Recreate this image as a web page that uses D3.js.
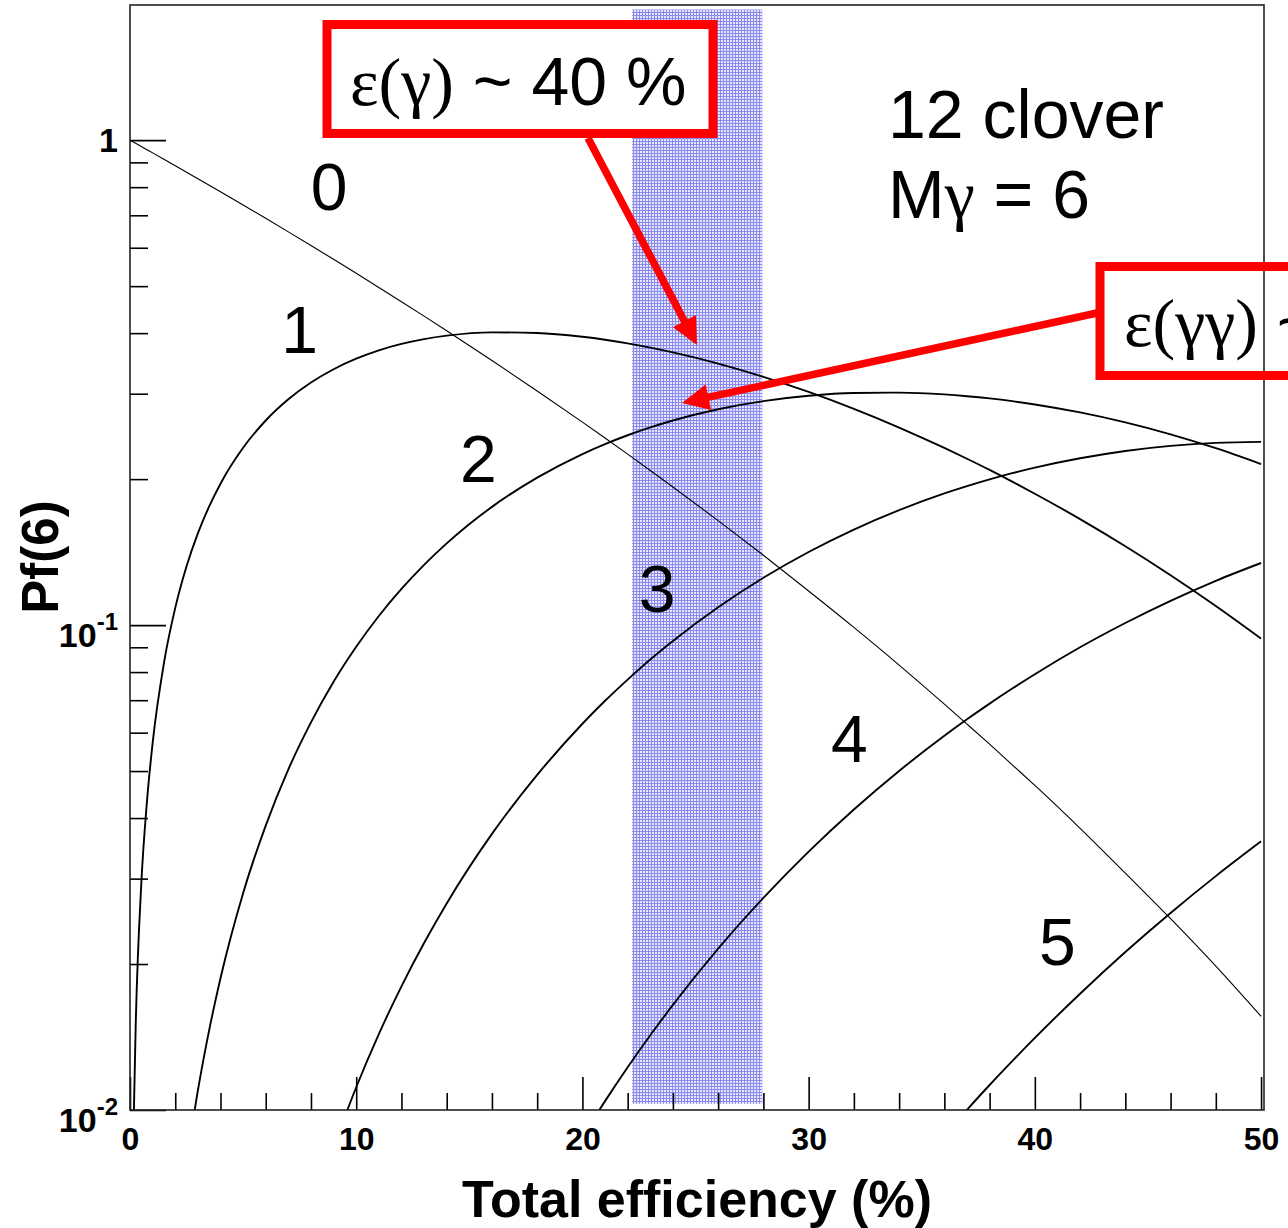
<!DOCTYPE html>
<html>
<head>
<meta charset="utf-8">
<script src="https://cdn.jsdelivr.net/npm/d3@7"></script>
<style>
  body { margin: 0; background: #fff; }
  svg { display: block; }
  text { font-family: "Liberation Sans", Arial, sans-serif; }
</style>
</head>
<body>
<svg id="chart"></svg>
<script>
// total efficiency grid (%)
const effPct = [0, 0.15, 0.25, 0.5, 0.75, 1, 1.5, 2, 2.5, 3, 3.5, 4, 5, 6, 7, 8, 9, 10, 11, 12, 13, 14,
  16, 18, 20, 21, 22, 23, 24, 26, 28, 30, 32, 34, 36, 37, 38, 39, 40, 42, 44, 46, 48, 50];

const lead = n => Array(n).fill(null);

// Pf(6) for fold 0..5
const pf0 = [1, 0.9910, 0.9851, 0.9704, 0.9558, 0.9415, 0.9133, 0.8858, 0.8591, 0.8330, 0.8075, 0.7828,
  0.7351, 0.6899, 0.6470, 0.6064, 0.5679, 0.5314, 0.4970, 0.4644, 0.4336, 0.4046, 0.3513, 0.3040,
  0.2621, 0.2431, 0.2252, 0.2084, 0.1927, 0.1642, 0.1393, 0.1176, 0.0989, 0.0827, 0.0687, 0.0625,
  0.0568, 0.0515, 0.0467, 0.0381, 0.0308, 0.0248, 0.0198, 0.0156];
const pf1 = [null, 0.0089, 0.0148, 0.0293, 0.0433, 0.0571, 0.0835, 0.1085, 0.1322, 0.1546, 0.1757, 0.1957,
  0.2321, 0.2642, 0.2922, 0.3164, 0.3370, 0.3543, 0.3686, 0.3800, 0.3888, 0.3952, 0.4015, 0.4004,
  0.3932, 0.3877, 0.3811, 0.3735, 0.3651, 0.3462, 0.3251, 0.3025, 0.2792, 0.2555, 0.2319, 0.2203,
  0.2089, 0.1976, 0.1866, 0.1654, 0.1454, 0.1267, 0.1095, 0.0938];
const pf2 = lead(8).concat([0.00777, 0.01096, 0.01461, 0.01869, 0.0280, 0.0386, 0.0504, 0.0630, 0.0764,
  0.0902, 0.1044, 0.1187, 0.1331, 0.1474, 0.1753, 0.2014, 0.2253, 0.2362, 0.2463, 0.2557, 0.2642,
  0.2787, 0.2897, 0.2971, 0.3010, 0.3016, 0.2990, 0.2965, 0.2934, 0.2896, 0.2851, 0.2745, 0.2618,
  0.2474, 0.2316, 0.2148]);
const pf3 = lead(16).concat([0.00839, 0.01114, 0.01434, 0.01799, 0.02210, 0.02667, 0.0371, 0.0491,
  0.0626, 0.0698, 0.0772, 0.0849, 0.0927, 0.1088, 0.1252, 0.1415, 0.1574, 0.1726, 0.1869, 0.1935,
  0.1998, 0.2057, 0.2112, 0.2208, 0.2286, 0.2342, 0.2376, 0.2387]);
const pf4 = lead(24).concat([0.00880, 0.01043, 0.01225, 0.01426, 0.01647, 0.02151, 0.02738, 0.03411,
  0.04167, 0.05003, 0.05912, 0.06393, 0.06888, 0.07398, 0.07920, 0.0900, 0.1010, 0.1122, 0.1234, 0.1343]);
const pf5 = lead(34).concat([0.00887, 0.01001, 0.01126, 0.01261, 0.01408, 0.01737, 0.02117, 0.02549,
  0.03036, 0.03581]);

const folds = ["0", "1", "2", "3", "4", "5"];
const foldSeries = [pf0, pf1, pf2, pf3, pf4, pf5];
// where each fold number sits (efficiency %, Pf)
const foldLabelAt = [[8.8, 0.717], [7.5, 0.364], [15.4, 0.197], [23.3, 0.1064], [31.8, 0.0522], [41.0, 0.0199]];

const xTicks = [0, 10, 20, 30, 40, 50];
const xTickLabels = ["0", "10", "20", "30", "40", "50"];
const yTicks = [1, 0.1, 0.01];
const yTickBase = ["1", "10", "10"];
const yTickExp = ["", "-1", "-2"];

const band = [22.2, 27.95];   // highlighted efficiency range

const width = 1288;
const height = 1228;
const frame = { left: 130, right: 1264, top: 5, bottom: 1110 };

const svg = d3.select("#chart")
  .attr("width", width)
  .attr("height", height);

const x = d3.scaleLinear().domain([0, 50.13]).range([frame.left, frame.right]);
const y = d3.scaleLog().domain([0.01, 1.9]).range([frame.bottom, frame.top]);

const defs = svg.append("defs");
defs.append("clipPath").attr("id", "plotclip")
  .append("rect")
  .attr("x", frame.left).attr("y", frame.top)
  .attr("width", frame.right - frame.left).attr("height", frame.bottom - frame.top);

// fine blue hatch of the band
const pat = defs.append("pattern")
  .attr("id", "hatch")
  .attr("patternUnits", "userSpaceOnUse")
  .attr("width", 3).attr("height", 3);
pat.append("rect").attr("width", 3).attr("height", 3).attr("fill", "#e6e6fb");
pat.append("rect").attr("width", 3).attr("height", 1).attr("fill", "#8a8aee");
pat.append("rect").attr("width", 1).attr("height", 3).attr("fill", "#8a8aee");

svg.append("rect")
  .attr("x", x(band[0]))
  .attr("width", x(band[1]) - x(band[0]))
  .attr("y", y(1.86))
  .attr("height", y(0.0103) - y(1.86))
  .attr("fill", "url(#hatch)");

// curves
const line = d3.line()
  .defined(d => d[1] != null)
  .x(d => x(d[0]))
  .y(d => y(d[1]))
  .curve(d3.curveMonotoneX);

svg.append("g")
  .attr("clip-path", "url(#plotclip)")
  .selectAll("path")
  .data(foldSeries)
  .enter()
  .append("path")
  .attr("d", s => line(effPct.map((e, i) => [e, s[i]])))
  .attr("fill", "none")
  .attr("stroke", "#000")
  .attr("stroke-width", (s, i) => i === 0 ? 1.1 : 1.9);

// fold numbers
svg.append("g")
  .selectAll("text")
  .data(folds)
  .enter()
  .append("text")
  .attr("x", (f, i) => x(foldLabelAt[i][0]))
  .attr("y", (f, i) => y(foldLabelAt[i][1]))
  .attr("text-anchor", "middle")
  .attr("font-size", 66)
  .text(f => f);

// x axis, ticks pointing inward
const xAxis = d3.axisBottom(x)
  .tickValues(xTicks)
  .tickSize(-33)
  .tickPadding(17)
  .tickFormat((d, i) => xTickLabels[i]);
const gx = svg.append("g")
  .attr("transform", `translate(0,${frame.bottom})`)
  .call(xAxis);
gx.select(".domain").remove();
gx.selectAll("line").attr("stroke", "#000").attr("stroke-width", 1.6);
gx.selectAll("text")
  .attr("font-family", "Liberation Sans, Arial, sans-serif")
  .attr("font-size", 32)
  .attr("font-weight", "bold")
  .attr("fill", "#000");

const xMinor = d3.range(0, 51, 2).filter(v => v % 10 !== 0);
const gxm = svg.append("g")
  .attr("transform", `translate(0,${frame.bottom})`)
  .call(d3.axisBottom(x).tickValues(xMinor).tickSize(-17).tickFormat(""));
gxm.select(".domain").remove();
gxm.selectAll("line").attr("stroke", "#000").attr("stroke-width", 1.6);

// y axis (log)
const gy = svg.append("g")
  .attr("transform", `translate(${frame.left},0)`)
  .call(d3.axisLeft(y).tickValues(yTicks).tickSize(-36).tickFormat(""));
gy.select(".domain").remove();
gy.selectAll("line").attr("stroke", "#000").attr("stroke-width", 1.6);

const yMinor = y.ticks().filter(v => !yTicks.some(t => Math.abs(t - v) < 1e-9));
const gym = svg.append("g")
  .attr("transform", `translate(${frame.left},0)`)
  .call(d3.axisLeft(y).tickValues(yMinor).tickSize(-18).tickFormat(""));
gym.select(".domain").remove();
gym.selectAll("line").attr("stroke", "#000").attr("stroke-width", 1.6);

const yLab = svg.append("g")
  .selectAll("text")
  .data(yTicks)
  .enter()
  .append("text")
  .attr("x", 118)
  .attr("y", (v, i) => y(v) + (yTickExp[i] ? 22 : 12))
  .attr("text-anchor", "end")
  .attr("font-size", 34)
  .attr("font-weight", "bold");
yLab.append("tspan").text((v, i) => yTickBase[i]);
yLab.append("tspan")
  .attr("dy", -17)
  .attr("font-size", 24)
  .text((v, i) => yTickExp[i]);

// axis titles
svg.append("text")
  .attr("x", 697)
  .attr("y", 1217)
  .attr("text-anchor", "middle")
  .attr("font-size", 52)
  .attr("font-weight", "bold")
  .text("Total efficiency (%)");

svg.append("text")
  .attr("transform", "translate(58,557) rotate(-90)")
  .attr("text-anchor", "middle")
  .attr("font-size", 51)
  .attr("font-weight", "bold")
  .text("Pf(6)");

// detector text
svg.append("text")
  .attr("x", 888).attr("y", 138)
  .attr("font-size", 68)
  .text("12 clover");
const mg = svg.append("text")
  .attr("x", 888).attr("y", 218)
  .attr("font-size", 68);
mg.append("tspan").text("M");
mg.append("tspan").attr("font-family", "Liberation Serif, Times New Roman, serif").text("γ");
mg.append("tspan").text(" = 6");

// annotation boxes and arrows
const red = "#ff0000";
const boxes = [
  { x: 327, y: 24.5, w: 386, h: 109, tx: 350, ty: 105, greek: "ε(γ)", rest: " ~ 40 %" },
  { x: 1100, y: 266.5, w: 300, h: 109, tx: 1124, ty: 346, greek: "ε(γγ)", rest: " ~ 16 %" }
];
const arrows = [
  { from: [588, 138], to: [697, 345] },
  { from: [1097, 313], to: [682, 403] }
];

svg.selectAll("rect.boxfill")
  .data(boxes)
  .enter()
  .append("rect")
  .attr("class", "boxfill")
  .attr("x", b => b.x).attr("y", b => b.y)
  .attr("width", b => b.w).attr("height", b => b.h)
  .attr("fill", "#fff");

// frame (drawn above the box fill, as in the original)
svg.append("rect")
  .attr("x", frame.left).attr("y", frame.top)
  .attr("width", frame.right - frame.left).attr("height", frame.bottom - frame.top)
  .attr("fill", "none")
  .attr("stroke", "#222")
  .attr("stroke-width", 1.6);

svg.selectAll("rect.boxline")
  .data(boxes)
  .enter()
  .append("rect")
  .attr("class", "boxline")
  .attr("x", b => b.x).attr("y", b => b.y)
  .attr("width", b => b.w).attr("height", b => b.h)
  .attr("fill", "none")
  .attr("stroke", red)
  .attr("stroke-width", 9);

const bt = svg.selectAll("text.boxtext")
  .data(boxes)
  .enter()
  .append("text")
  .attr("class", "boxtext")
  .attr("x", b => b.tx).attr("y", b => b.ty)
  .attr("font-size", 68);
bt.append("tspan")
  .attr("font-family", "Liberation Serif, Times New Roman, serif")
  .text(b => b.greek);
bt.append("tspan").text(b => b.rest);

const headLen = 27, headHalf = 13;
arrows.forEach(a => {
  const [x0, y0] = a.from, [x1, y1] = a.to;
  const len = Math.hypot(x1 - x0, y1 - y0);
  const ux = (x1 - x0) / len, uy = (y1 - y0) / len;
  const bx = x1 - ux * headLen, by = y1 - uy * headLen;
  svg.append("line")
    .attr("x1", x0).attr("y1", y0)
    .attr("x2", bx + ux * 2).attr("y2", by + uy * 2)
    .attr("stroke", red)
    .attr("stroke-width", 7.5);
  svg.append("polygon")
    .attr("points", [[x1, y1], [bx - uy * headHalf, by + ux * headHalf], [bx + uy * headHalf, by - ux * headHalf]]
      .map(p => p.join(",")).join(" "))
    .attr("fill", red);
});
</script>
</body>
</html>
